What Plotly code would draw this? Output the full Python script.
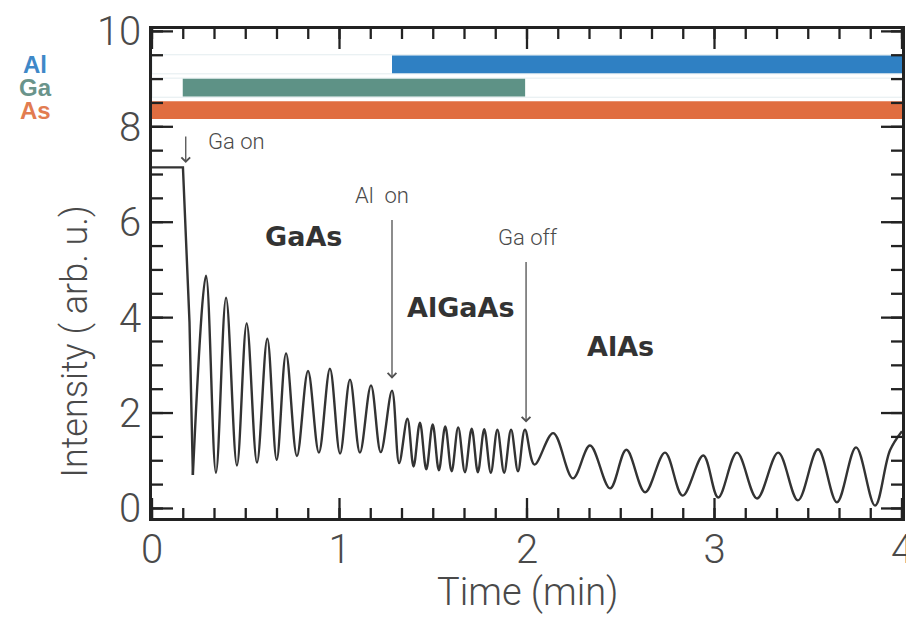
import plotly.graph_objects as go

# ---------------- data ----------------
start_time = [0.0, 0.165, 0.200, 0.218]
start_intensity = [7.15, 7.15, 3.90, 0.70]

osc_time = [0.218, 0.288, 0.341, 0.395, 0.453, 0.505, 0.560, 0.615, 0.665, 0.715,
            0.773, 0.832, 0.890, 0.949, 1.003, 1.056, 1.109, 1.168, 1.220, 1.280,
            1.318, 1.362, 1.395, 1.429, 1.463, 1.497, 1.530, 1.564, 1.598, 1.633,
            1.669, 1.705, 1.738, 1.772, 1.807, 1.842, 1.878, 1.915, 1.952, 1.989,
            2.040, 2.140, 2.245, 2.336, 2.443, 2.530, 2.630, 2.736, 2.830, 2.940,
            3.020, 3.120, 3.227, 3.340, 3.445, 3.552, 3.653, 3.755, 3.856, 3.936, 4.000]
osc_intensity = [0.70, 4.88, 0.75, 4.42, 0.90, 3.88, 0.96, 3.56, 1.02, 3.25,
                 1.10, 2.88, 1.17, 2.93, 1.15, 2.70, 1.17, 2.58, 1.18, 2.47,
                 0.95, 1.88, 0.88, 1.80, 0.82, 1.76, 0.80, 1.72, 0.78, 1.70,
                 0.76, 1.67, 0.76, 1.66, 0.75, 1.65, 0.75, 1.65, 0.78, 1.65,
                 0.92, 1.58, 0.63, 1.32, 0.42, 1.23, 0.34, 1.17, 0.27, 1.11,
                 0.23, 1.17, 0.21, 1.17, 0.17, 1.24, 0.13, 1.28, 0.06, 1.22, 1.62]

sources = ["Al", "Ga", "As"]
shutter_open = [1.28, 0.164, 0.0]
shutter_close = [4.0, 1.99, 4.0]
bar_level = [9.31, 8.82, 8.35]
source_colors = ["#2f80c3", "#5e9286", "#e06d40"]
label_colors = ["#3f88c8", "#6a948b", "#e27c50"]

events = ["Ga on", "Al  on", "Ga off"]
event_time = [0.18, 1.28, 1.995]
event_arrow_top = [7.83, 6.08, 5.20]
event_arrow_tip = [7.24, 2.72, 1.80]
event_text_x = [0.45, 1.227, 2.005]
event_text_y = [7.70, 6.55, 5.67]

layers = ["GaAs", "AlGaAs", "AlAs"]
layer_x = [0.81, 1.648, 2.496]
layer_y = [5.71, 4.22, 3.39]

# axis ticks
x_major_ticks = [0, 1, 2, 3, 4]
x_minor_ticks = [k / 6 for k in range(25)]
y_major_ticks = [0, 2, 4, 6, 8, 10]
y_minor_ticks = [k / 2 for k in range(21)]

X_RANGE = [0, 4]
Y_RANGE = [-0.2, 10.05]

# plot-area size in pixels (used to turn tick lengths into axis units)
PLOT_W, PLOT_H = 750, 489
X_PER_PX = (X_RANGE[1] - X_RANGE[0]) / PLOT_W
Y_PER_PX = (Y_RANGE[1] - Y_RANGE[0]) / PLOT_H

# ---------------- figure ----------------
fig = go.Figure()

for lvl in bar_level[:2]:
    fig.add_trace(go.Bar(orientation="h", y=[lvl], x=[4.0], base=[0.0], width=0.40,
                         marker=dict(color="rgba(255,255,255,0)",
                                     line=dict(color="#e3ecef", width=1)),
                         showlegend=False, hoverinfo="skip"))

for name, s, e, lvl, c in zip(sources, shutter_open, shutter_close, bar_level, source_colors):
    fig.add_trace(go.Bar(orientation="h", y=[lvl], x=[e - s], base=[s], width=0.37,
                         marker=dict(color=c, line=dict(color=c, width=0)),
                         name=name, showlegend=False))

fig.add_trace(go.Scatter(x=start_time, y=start_intensity, mode="lines",
                         line=dict(color="#333333", width=2.4), showlegend=False))
fig.add_trace(go.Scatter(x=osc_time, y=osc_intensity, mode="lines",
                         line=dict(color="#333333", width=2.4, shape="spline", smoothing=1.0),
                         showlegend=False))

# inside tick marks on all four sides, drawn as short line segments
TICK_COLOR = "#222222"


def x_tick_segments(ticks, length_px):
    xs, ys = [], []
    L = length_px * Y_PER_PX
    for t in ticks:
        xs += [t, t, None, t, t, None]
        ys += [Y_RANGE[0], Y_RANGE[0] + L, None, Y_RANGE[1], Y_RANGE[1] - L, None]
    return xs, ys


def y_tick_segments(ticks, length_px):
    xs, ys = [], []
    L = length_px * X_PER_PX
    for t in ticks:
        xs += [X_RANGE[0], X_RANGE[0] + L, None, X_RANGE[1], X_RANGE[1] - L, None]
        ys += [t, t, None, t, t, None]
    return xs, ys


for seg in (x_tick_segments(x_minor_ticks, 10), x_tick_segments(x_major_ticks, 20),
            y_tick_segments(y_minor_ticks, 11), y_tick_segments(y_major_ticks, 21)):
    fig.add_trace(go.Scatter(x=seg[0], y=seg[1], mode="lines", connectgaps=False,
                             line=dict(color=TICK_COLOR, width=2.3),
                             showlegend=False, hoverinfo="skip"))

light_font = dict(family="Roboto, Liberation Sans, Arial", color="#4a4a4a", weight=300)

for name, lvl, c in zip(sources, bar_level, label_colors):
    fig.add_annotation(x=-0.156, xref="paper", y=lvl, yref="y", text="<b>%s</b>" % name,
                       showarrow=False, xanchor="center", yanchor="middle",
                       font=dict(family="Liberation Sans, Arial", size=24, color=c))

for txt, t, top, tip, tx, ty in zip(events, event_time, event_arrow_top, event_arrow_tip,
                                     event_text_x, event_text_y):
    fig.add_annotation(x=t, y=tip, ax=t, ay=top, xref="x", yref="y", axref="x", ayref="y",
                       text="", showarrow=True, arrowhead=4, arrowsize=1.3,
                       arrowwidth=1.3, arrowcolor="#505050")
    fig.add_annotation(x=tx, y=ty, xref="x", yref="y", text=txt, showarrow=False,
                       font=dict(light_font, size=22))

for txt, lx, ly in zip(layers, layer_x, layer_y):
    fig.add_annotation(x=lx, y=ly, xref="x", yref="y", text="<b>%s</b>" % txt,
                       showarrow=False,
                       font=dict(family="DejaVu Sans, Arial", size=27, color="#333333"))

# axis titles
fig.add_annotation(x=0.5, xref="paper", y=-0.151, yref="paper", text="Time (min)",
                   showarrow=False, xanchor="center", yanchor="middle",
                   font=dict(light_font, size=38))
fig.add_annotation(x=-0.103, xref="paper", y=0.36, yref="paper", text="Intensity ( arb. u.)",
                   textangle=-90, showarrow=False, xanchor="center", yanchor="middle",
                   font=dict(light_font, size=36))

axis_common = dict(showline=True, linecolor="#222222", linewidth=2.5, mirror=True,
                   ticks="", showgrid=False, zeroline=False, automargin=False,
                   tickfont=dict(light_font, size=40), tickmode="array")

fig.update_xaxes(range=X_RANGE, tickvals=x_major_ticks, ticklabelstandoff=-6, **axis_common)
fig.update_yaxes(range=Y_RANGE, tickvals=y_major_ticks, ticklabelstandoff=0, **axis_common)

fig.update_layout(width=906, height=613, margin=dict(l=144, r=12, t=21, b=103),
                  plot_bgcolor="white", paper_bgcolor="white", barmode="overlay",
                  showlegend=False)

fig.write_html("out.html")
